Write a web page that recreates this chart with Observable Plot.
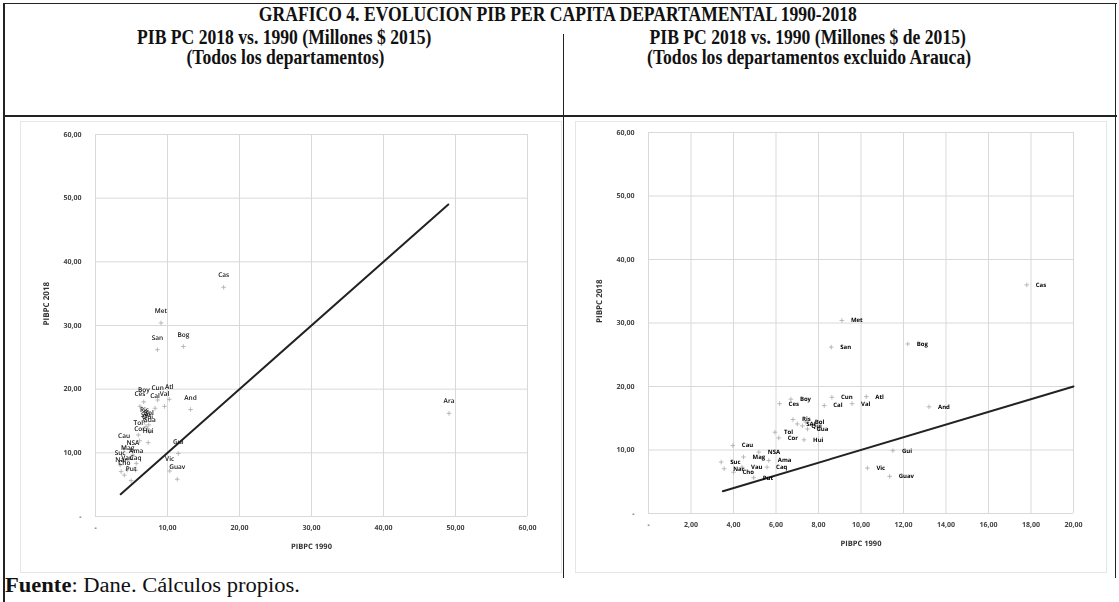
<!DOCTYPE html>
<html>
<head>
<meta charset="utf-8">
<script src="https://cdn.jsdelivr.net/npm/d3@7"></script>
<script src="https://cdn.jsdelivr.net/npm/@observablehq/plot@0.6"></script>
<style>
  html, body { margin: 0; padding: 0; background: #fff; }
  #page { position: relative; width: 1119px; height: 602px; overflow: hidden; background: #fff; }
  .ln { position: absolute; background: #222; }
  .ttl { position: absolute; font-family: "Liberation Serif", "DejaVu Serif", serif; font-weight: bold; color: #111;
         white-space: nowrap; font-size: 20px; line-height: 20px; transform-origin: center center; }
  .chartbox { position: absolute; border: 1px solid #e6e6e6; }
  .plotwrap { position: absolute; will-change: transform; transform: translateZ(0); }
  #fuente { position: absolute; left: 5px; top: 574px; font-family: "Liberation Serif", serif; font-size: 20px; line-height: 22px; color: #111; white-space: nowrap; transform-origin: left center; }
  svg text { text-rendering: geometricPrecision; }
</style>
</head>
<body>
<div id="page">
  <div class="ln" style="left:3px;top:3px;width:1114px;height:1px;"></div>
  <div class="ln" style="left:3px;top:3px;width:2px;height:599px;"></div>
  <div class="ln" style="left:1115px;top:3px;width:1px;height:575px;"></div>
  <div class="ln" style="left:3px;top:115px;width:1114px;height:2px;"></div>
  <div class="ln" style="left:563px;top:34px;width:1px;height:544px;"></div>

  <div class="ttl" data-c="558" style="top:4px;">GRAFICO 4. EVOLUCION PIB PER CAPITA DEPARTAMENTAL 1990-2018</div>
  <div class="ttl" data-c="284" style="top:27px;">PIB PC 2018 vs. 1990 (Millones $ 2015)</div>
  <div class="ttl" data-c="285" style="top:47px;">(Todos los departamentos)</div>
  <div class="ttl" data-c="808" style="top:27px;">PIB PC 2018 vs. 1990 (Millones $ de 2015)</div>
  <div class="ttl" data-c="809" style="top:47px;">(Todos los departamentos excluido Arauca)</div>

  <div class="chartbox" style="left:20px;top:121px;width:540px;height:450px;"></div>
  <div class="chartbox" style="left:575px;top:121px;width:530px;height:450px;"></div>

  <div class="plotwrap" id="left" style="left:20px;top:122px;"></div>
  <div class="plotwrap" id="right" style="left:575px;top:120px;"></div>

  <div id="fuente" data-w="295"><b>Fuente</b>: Dane. Cálculos propios.</div>
</div>
<script>
// Department abbreviations, PIB per capita 1990 and 2018 (millones $ 2015)
const depto = ["Cas","Met","San","Bog","Ara","And","Atl","Cun","Cal","Val","Boy","Ces","Ris","SAI","Bol","Qui","Gua","Tol","Cor","Hui","Gui","Vic","Guav","Cau","NSA","Mag","Ama","Suc","Nar","Cho","Caq","Vau","Put"];
const pib1990 = [17.8, 9.1, 8.6, 12.2, 49.1, 13.2, 10.25, 8.63, 8.27, 9.58, 6.7, 6.17, 6.8, 7.0, 7.4, 7.24, 7.48, 5.95, 6.13, 7.32, 11.5, 10.3, 11.35, 3.97, 5.19, 4.47, 5.66, 3.42, 3.56, 4.0, 5.58, 4.4, 4.95];
const pib2018 = [36.0, 30.4, 26.2, 26.7, 16.2, 16.8, 18.4, 18.3, 17.0, 17.3, 18.0, 17.3, 14.8, 14.1, 14.4, 13.8, 13.3, 12.8, 11.9, 11.6, 9.9, 7.15, 5.85, 10.7, 9.66, 8.9, 8.35, 8.1, 7.05, 6.5, 7.3, 7.3, 5.64];
const excluded = ["Ara"];

// 45-degree reference line (y = x) endpoints
const diagLeft = [3.5, 49];
const diagRight = [3.5, 20];

const ticksLeftX = [0, 10, 20, 30, 40, 50, 60];
const ticksRightX = [0, 2, 4, 6, 8, 10, 12, 14, 16, 18, 20];
const ticksY = [0, 10, 20, 30, 40, 50, 60];

const xLabel = "PIBPC 1990";
const yLabel = "PIBPC 2018";

// condensed serif titles, centred on their columns
const titleScale = 0.88;
document.querySelectorAll(".ttl").forEach(el => {
  const w = el.getBoundingClientRect().width;
  el.style.left = (+el.dataset.c - w / 2) + "px";
  el.style.transform = `scaleX(${titleScale})`;
});
{
  const f = document.getElementById("fuente");
  const w = f.getBoundingClientRect().width;
  f.style.transform = `scaleX(${(+f.dataset.w) / w})`;
}

const rows = depto.map((d, i) => ({name: d, x: pib1990[i], y: pib2018[i]}));
const rowsRight = rows.filter(r => !excluded.includes(r.name));

const fmt = d => d === 0 ? "-" : d.toFixed(2).replace(".", ",");

const font = "'Open Sans', 'Liberation Sans', sans-serif";

function panel({data, xDomain, xTicks, diag, width, height, margins, labelMode}) {
  const line = diag.map(v => ({x: v, y: v}));
  const labelMark = labelMode === "above"
    ? Plot.text(data, {x: "x", y: "y", text: "name", dy: -12, fontSize: 6.5, fill: "#111", fontFamily: font, fontWeight: 600})
    : Plot.text(data, {x: "x", y: "y", text: "name", dx: 9, textAnchor: "start", fontSize: 6, fill: "#000", fontFamily: font, fontWeight: "bold"});
  return Plot.plot({
    width, height,
    marginLeft: margins[0], marginRight: margins[1], marginTop: margins[2], marginBottom: margins[3],
    style: {fontFamily: font, background: "transparent", overflow: "visible"},
    x: {domain: xDomain},
    y: {domain: [0, 60]},
    marks: [
      Plot.gridX(xTicks, {stroke: "#d9d9d9", strokeOpacity: 1, strokeWidth: 1}),
      Plot.gridY(ticksY, {stroke: "#d9d9d9", strokeOpacity: 1, strokeWidth: 1}),
      Plot.axisX({ticks: xTicks, tickFormat: fmt, tickSize: 0, tickPadding: 9, fontSize: 7, fontWeight: "bold", fill: "#444", label: null}),
      Plot.axisY({ticks: ticksY, tickFormat: fmt, tickSize: 0, tickPadding: 14, fontSize: 7, fontWeight: "bold", fill: "#444", label: null}),
      Plot.text([xLabel], {frameAnchor: "bottom", dy: 32, fontSize: 7.5, fontWeight: "bold", fill: "#333", fontFamily: font}),
      Plot.text([yLabel], {frameAnchor: "left", dx: -49, rotate: -90, fontSize: 8, fontWeight: "bold", fill: "#333", fontFamily: font}),
      Plot.line(line, {x: "x", y: "y", stroke: "#222", strokeWidth: 2}),
      Plot.dot(data, {x: "x", y: "y", symbol: "plus", r: 1.6, stroke: "#aaa", strokeWidth: 0.8}),
      labelMark
    ]
  });
}

document.getElementById("left").appendChild(panel({
  data: rows, xDomain: [0, 60], xTicks: ticksLeftX, diag: diagLeft,
  width: 540, height: 443, margins: [75, 33, 12, 49], labelMode: "above"
}));
document.getElementById("right").appendChild(panel({
  data: rowsRight, xDomain: [0, 20], xTicks: ticksRightX, diag: diagRight,
  width: 530, height: 445, margins: [73, 32, 12, 52], labelMode: "right"
}));
</script>
</body>
</html>
